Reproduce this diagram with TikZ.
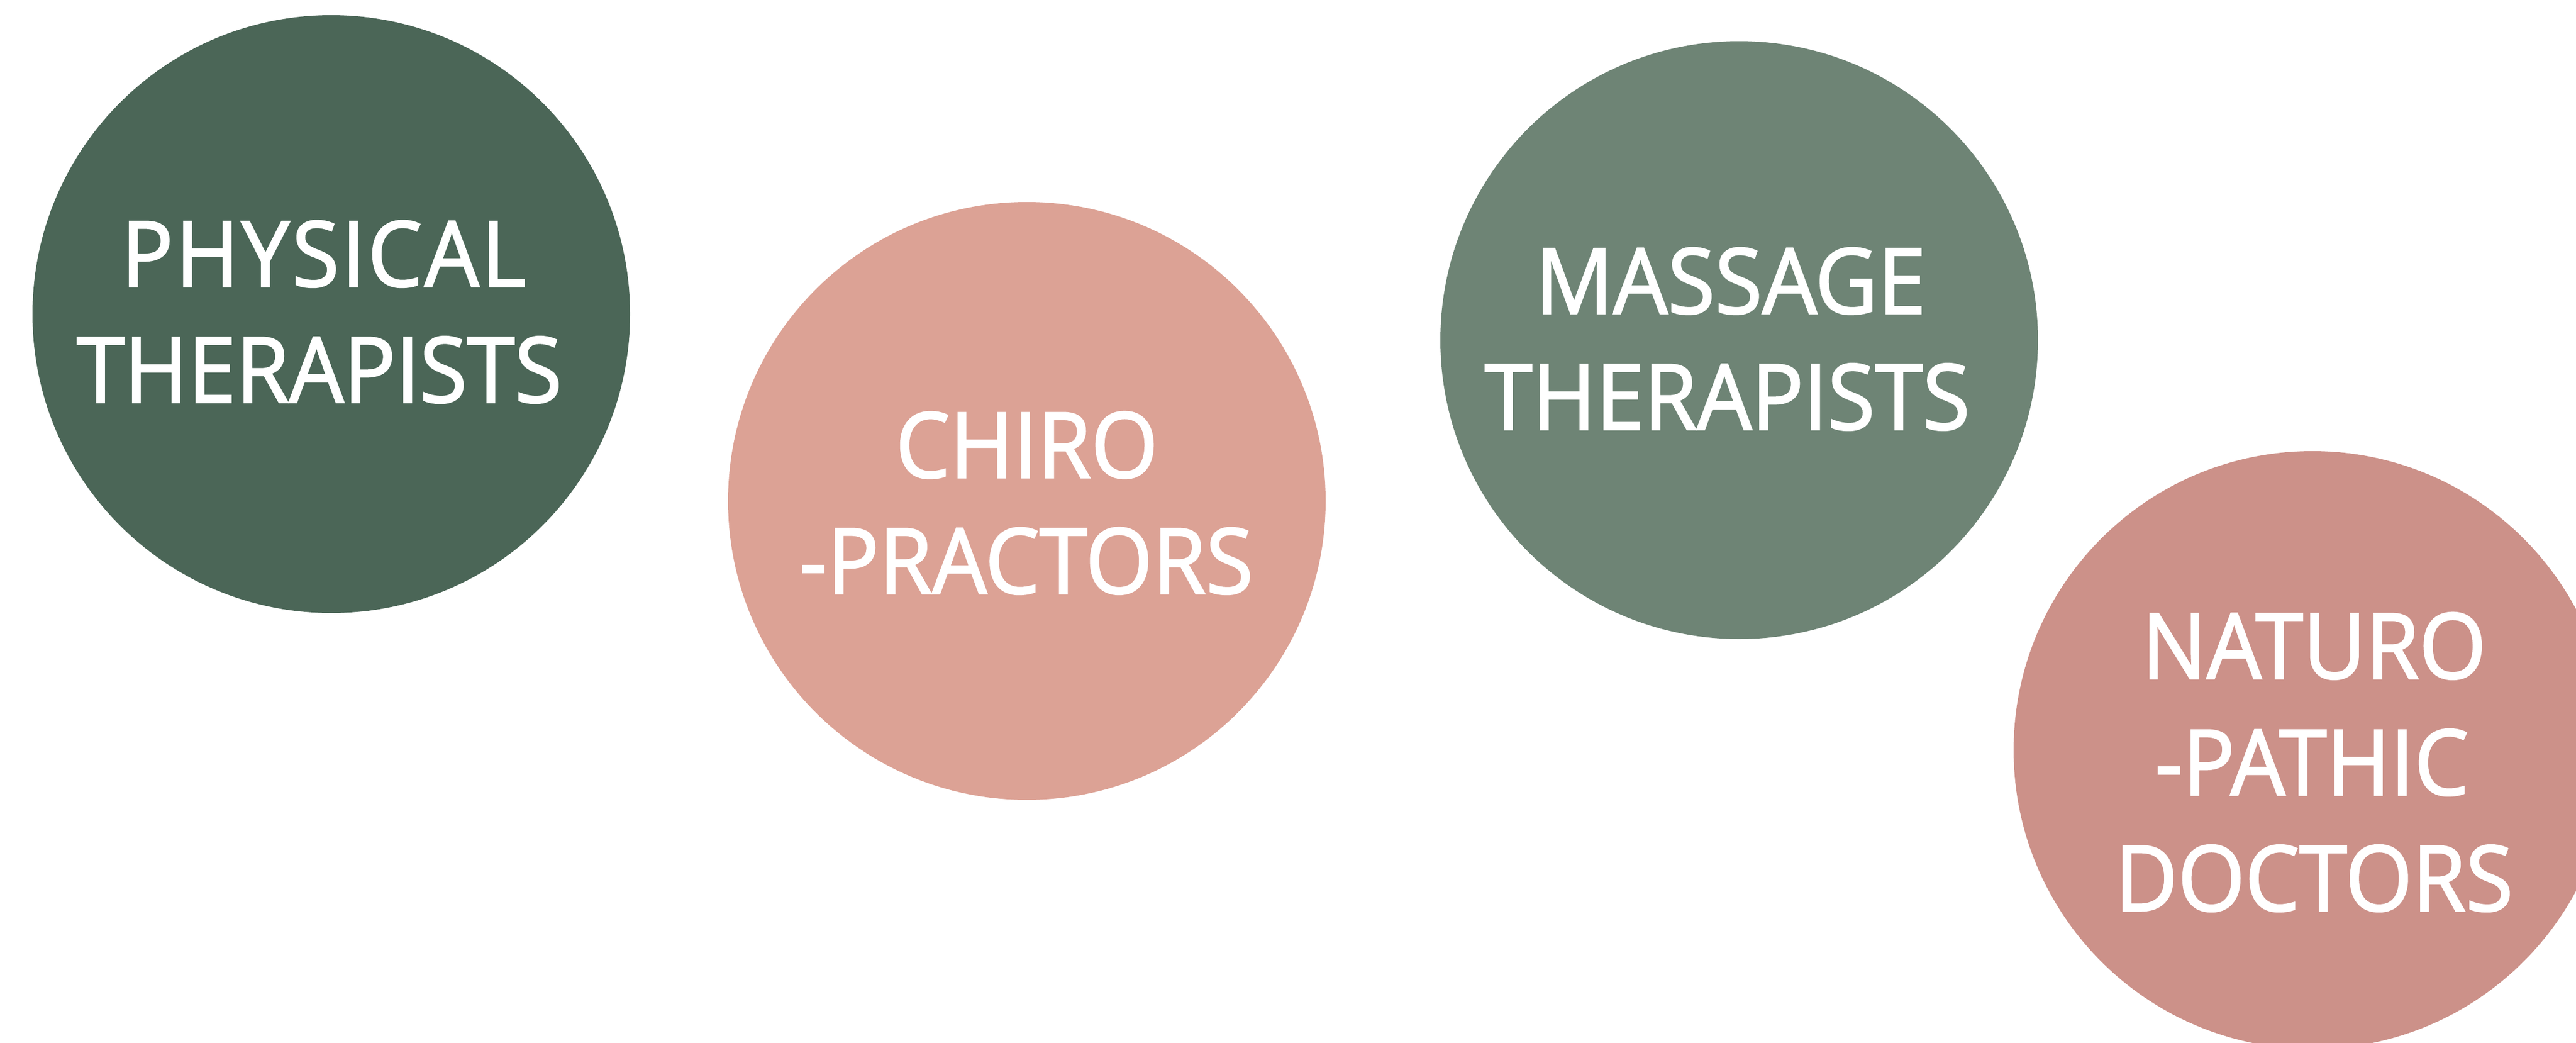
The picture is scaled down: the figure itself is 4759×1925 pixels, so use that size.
\documentclass[tikz,border=0pt]{standalone}
\usepackage{fontspec}
\setmainfont{Open Sans}[FakeStretch=0.948,FakeBold=1.8]
\begin{document}
\begin{tikzpicture}[x=1pt,y=-1pt,
  disc/.style={circle,inner sep=0pt,minimum size=1104pt,draw=none},
  lbl/.style={anchor=base,inner sep=0pt,text=white,font=\fontsize{168}{214}\selectfont}]
\definecolor{cdark}{HTML}{4B6657}
\definecolor{cmid}{HTML}{6E8475}
\definecolor{csalmon}{HTML}{DCA295}
\definecolor{crose}{HTML}{CC9189}
\useasboundingbox (0,0) rectangle (4759,1925);
\clip (0,0) rectangle (4759,1925);
\node[disc,fill=cdark] (pt) at (612,580) {};
\node[disc,fill=csalmon] (ch) at (1897,925) {};
\node[disc,fill=cmid] (mt) at (3213,628) {};
\node[disc,fill=crose] (nd) at (4272,1385) {};
\node[lbl] (pt1) at (598,529) {\addfontfeature{LetterSpace=2.5}PHYSICAL};
\node[lbl] (pt2) at (590,743) {THERAPISTS};
\node[lbl] (ch1) at (1897,882) {CHIRO};
\node[lbl] (ch2) at (1896,1096) {-PRACTORS};
\node[lbl] (mt1) at (3197,579) {MASSAGE};
\node[lbl] (mt2) at (3191,793) {THERAPISTS};
\node[lbl] (nd1) at (4275,1253) {NATURO};
\node[lbl] (nd2) at (4271,1468) {-PATHIC};
\node[lbl] (nd3) at (4275,1682) {DOCTORS};
\end{tikzpicture}
\end{document}
